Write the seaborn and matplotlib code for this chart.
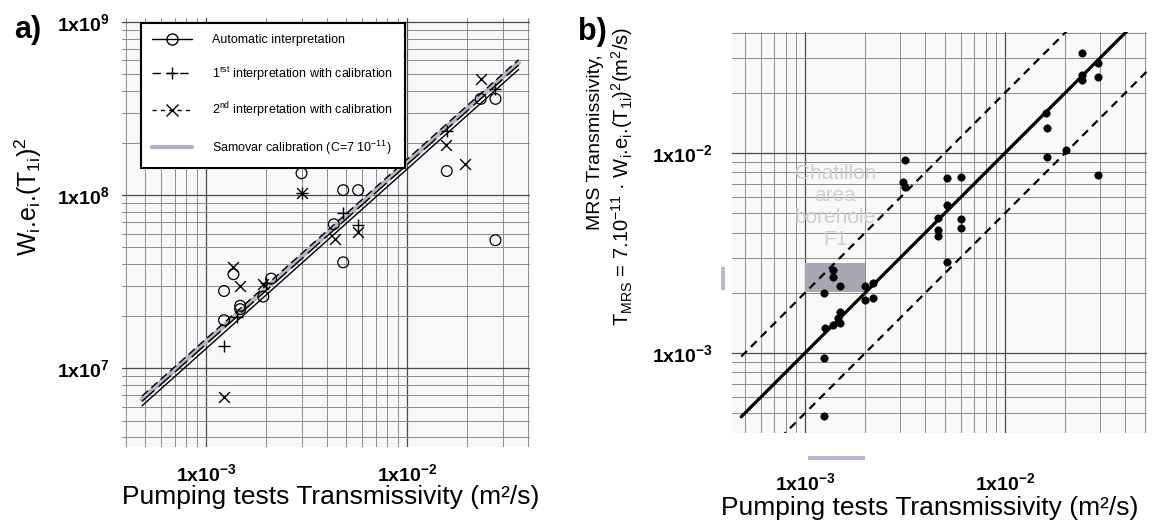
import numpy as np
import seaborn as sns
import matplotlib.pyplot as plt
from matplotlib.lines import Line2D
from matplotlib.patches import Rectangle
from matplotlib.ticker import FixedLocator, LogLocator, NullFormatter

sns.set_theme(style="white")
plt.rcParams['font.family'] = ['Liberation Sans', 'DejaVu Sans']
plt.rcParams['mathtext.fontset'] = 'custom'
plt.rcParams['mathtext.rm'] = 'Liberation Sans'
plt.rcParams['mathtext.it'] = 'Liberation Sans:italic'
plt.rcParams['mathtext.bf'] = 'Liberation Sans:bold'
plt.rcParams['text.color'] = 'black'
plt.rcParams['xtick.color'] = 'black'
plt.rcParams['ytick.color'] = 'black'
plt.rcParams['xtick.labelcolor'] = 'black'
plt.rcParams['ytick.labelcolor'] = 'black'

# panel a) : W.e.(T1)^2 vs pumping test transmissivity
auto_x = [2.99e-3, 4.82e-3, 5.72e-3, 4.33e-3, 4.82e-3, 1.37e-3, 1.23e-3, 2.11e-3,
          1.93e-3, 1.48e-3, 1.48e-3, 1.23e-3, 1.58e-2, 2.33e-2, 2.76e-2, 2.76e-2]
auto_y = [1.34e8, 1.07e8, 1.07e8, 6.8e7, 4.1e7, 3.5e7, 2.8e7, 3.3e7,
          2.6e7, 2.3e7, 2.2e7, 1.9e7, 1.38e8, 3.6e8, 3.6e8, 5.5e7]
calib1_x = [1.23e-3, 1.42e-3, 2.0e-3, 2.99e-3, 4.82e-3, 5.72e-3, 1.58e-2, 2.76e-2]
calib1_y = [1.35e7, 1.97e7, 3.1e7, 1.03e8, 7.86e7, 6.72e7, 2.36e8, 4.1e8]
calib2_x = [1.23e-3, 1.37e-3, 1.48e-3, 1.93e-3, 2.99e-3, 4.38e-3, 5.72e-3, 1.56e-2, 1.94e-2, 2.33e-2]
calib2_y = [6.8e6, 3.85e7, 3.0e7, 3.08e7, 1.03e8, 5.62e7, 6.14e7, 1.95e8, 1.51e8, 4.66e8]

# fitted lines y = k * (x / 1e-3) ** p
fit_names = ['auto', 'calib1', 'calib2', 'samovar']
fit_k = [1.30e7, 1.38e7, 1.48e7, 1.42e7]
fit_p = [1.036, 1.036, 1.036, 1.036]
fit_range_a = [4.8e-4, 3.6e-2]

# panel b) : MRS transmissivity vs pumping test transmissivity
mrs_x = [2.42e-2, 2.93e-2, 2.42e-2, 2.42e-2, 2.93e-2, 1.60e-2, 1.62e-2, 1.62e-2, 2.01e-2, 2.93e-2,
         3.16e-3, 3.09e-3, 3.16e-3, 5.11e-3, 6.03e-3, 5.11e-3, 4.64e-3, 6.03e-3, 6.03e-3, 4.62e-3,
         4.62e-3, 5.11e-3, 1.385e-3, 1.385e-3, 1.50e-3, 1.245e-3, 2.20e-3, 2.0e-3, 2.0e-3, 2.20e-3,
         1.50e-3, 1.47e-3, 1.50e-3, 1.385e-3, 1.26e-3, 1.245e-3, 1.245e-3]
mrs_y = [3.15e-2, 2.81e-2, 2.45e-2, 2.32e-2, 2.41e-2, 1.59e-2, 1.34e-2, 9.58e-3, 1.04e-2, 7.76e-3,
         9.23e-3, 7.16e-3, 6.76e-3, 7.47e-3, 7.56e-3, 5.50e-3, 4.72e-3, 4.66e-3, 4.20e-3, 4.12e-3,
         3.85e-3, 2.86e-3, 2.60e-3, 2.40e-3, 2.16e-3, 1.99e-3, 2.25e-3, 2.16e-3, 1.84e-3, 1.88e-3,
         1.61e-3, 1.49e-3, 1.41e-3, 1.38e-3, 1.34e-3, 0.947e-3, 0.484e-3]
ratio_lines = [1.0, 2.0, 0.5]
fit_range_b = [4.8e-4, 5.2e-2]

W, H = 1153, 522
fig = plt.figure(figsize=(W / 100, H / 100), dpi=100)
ax_a = fig.add_axes([122 / W, 1 - 447 / H, (530 - 122) / W, (447 - 18) / H])
ax_b = fig.add_axes([732 / W, 1 - 433 / H, (1147 - 732) / W, (433 - 32) / H])

for ax in (ax_a, ax_b):
    ax.set_xscale('log')
    ax.set_yscale('log')
    ax.set_facecolor('#f8f8f8')
    for s in ax.spines.values():
        s.set_visible(False)
    ax.grid(True, which='major', color='#4a4a4a', lw=0.9)
    ax.grid(True, which='minor', color='#8c8c8c', lw=0.7)
    ax.xaxis.set_minor_locator(LogLocator(base=10, subs=np.arange(2, 10)))
    ax.yaxis.set_minor_locator(LogLocator(base=10, subs=np.arange(2, 10)))
    ax.xaxis.set_minor_formatter(NullFormatter())
    ax.yaxis.set_minor_formatter(NullFormatter())
    ax.tick_params(which='both', length=0, labelsize=14, colors='black')

# ---- panel a
xs = np.array(fit_range_a)
styles = {'auto': dict(color='black', lw=1.0, linestyle='-'),
          'calib1': dict(color='black', lw=1.0, linestyle=(0, (12, 4))),
          'calib2': dict(color='black', lw=1.0, linestyle=(0, (6, 3))),
          'samovar': dict(color='#b4b4c6', lw=3.5, linestyle='-')}
order = ['samovar', 'auto', 'calib1', 'calib2']
for name in order:
    i = fit_names.index(name)
    ys = fit_k[i] * (xs / 1e-3) ** fit_p[i]
    sns.lineplot(x=xs, y=ys, ax=ax_a, estimator=None, sort=False, zorder=2, **styles[name])

sns.scatterplot(x=auto_x, y=auto_y, ax=ax_a, marker='o', s=60, facecolor='none',
                edgecolor='black', linewidth=0.9, zorder=3)
sns.scatterplot(x=calib1_x, y=calib1_y, ax=ax_a, marker='+', s=80, color='black',
                linewidth=1.0, zorder=3)
sns.scatterplot(x=calib2_x, y=calib2_y, ax=ax_a, marker='x', s=60, color='black',
                linewidth=1.0, zorder=3)

ax_a.set_xlim(3.82e-4, 4.1e-2)
ax_a.set_ylim(3.52e6, 1.055e9)
ax_a.xaxis.set_major_locator(FixedLocator([1e-3, 1e-2]))
ax_a.set_xticklabels([r'$\mathbf{1x10^{-3}}$', r'$\mathbf{1x10^{-2}}$'])
ax_a.yaxis.set_major_locator(FixedLocator([1e7, 1e8, 1e9]))
ax_a.set_yticklabels([r'$\mathbf{1x10^{7}}$', r'$\mathbf{1x10^{8}}$', r'$\mathbf{1x10^{9}}$'])
ax_a.tick_params(axis='x', pad=12)
ax_a.tick_params(axis='y', pad=9)
ax_a.set_xlabel('')
ax_a.set_ylabel('')

handles = [
    Line2D([], [], color='black', lw=1, marker='o', mfc='none', mec='black', ms=8),
    Line2D([], [], color='black', lw=1, linestyle=(0, (6, 4)), marker='+', mec='black', ms=9),
    Line2D([], [], color='black', lw=1, linestyle=(0, (3, 3)), marker='x', mec='black', ms=8),
    Line2D([], [], color='#b4b4c6', lw=3),
]
labels = ['Automatic interpretation',
          r'1$^{\mathrm{rst}}$ interpretation with calibration',
          r'2$^{\mathrm{nd}}$ interpretation with calibration',
          r'Samovar calibration (C=7 10$^{-11}$)']
leg = ax_a.legend(handles, labels, loc='upper left', bbox_to_anchor=(0.047, 0.988),
                  fontsize=9, frameon=True, fancybox=False, framealpha=1,
                  edgecolor='black', handlelength=3.2, handletextpad=1.6,
                  labelspacing=1.45, borderpad=0.9, borderaxespad=0)
leg.get_frame().set_linewidth(1.5)
leg.set_zorder(5)

# ---- panel b
xb = np.array(fit_range_b)
for r in ratio_lines:
    if r == 1.0:
        sns.lineplot(x=xb, y=r * xb, ax=ax_b, color='black', lw=2.3, estimator=None, zorder=3)
    else:
        sns.lineplot(x=xb, y=r * xb, ax=ax_b, color='black', lw=1.6,
                     linestyle=(0, (3.6, 2.6)), estimator=None, zorder=3)

ax_b.add_patch(Rectangle((1.0e-3, 2.02e-3), 1.0e-3, 0.8e-3, color='#a8a8b2', zorder=2, lw=0))
ax_b.text(1.42e-3, 5.4e-3, 'Chatillon\narea\nborehole\nF1', ha='center', va='center',
          fontsize=15, color='#cfcfcf', linespacing=1.2, zorder=2)

sns.scatterplot(x=mrs_x, y=mrs_y, ax=ax_b, marker='o', s=28, color='black',
                edgecolor='black', linewidth=0.5, zorder=4)

ax_b.set_xlim(4.315e-4, 5.13e-2)
ax_b.set_ylim(3.98e-4, 4.03e-2)
ax_b.xaxis.set_major_locator(FixedLocator([1e-3, 1e-2]))
ax_b.set_xticklabels([r'$\mathbf{1x10^{-3}}$', r'$\mathbf{1x10^{-2}}$'])
ax_b.yaxis.set_major_locator(FixedLocator([1e-3, 1e-2]))
ax_b.set_yticklabels([r'$\mathbf{1x10^{-3}}$', r'$\mathbf{1x10^{-2}}$'])
ax_b.tick_params(axis='x', pad=28)
ax_b.tick_params(axis='y', pad=14)
ax_b.set_xlabel('')
ax_b.set_ylabel('')

# ---- labels
fig.text(28 / W, 1 - 30 / H, 'a)', fontsize=22, fontweight='bold', ha='center', va='center')
fig.text(592 / W, 1 - 32 / H, 'b)', fontsize=22, fontweight='bold', ha='center', va='center')
fig.text(331 / W, 1 - 497 / H, 'Pumping tests Transmissivity (m²/s)', fontsize=19,
         ha='center', va='center')
fig.text(930 / W, 1 - 508 / H, 'Pumping tests Transmissivity (m²/s)', fontsize=19,
         ha='center', va='center')
fig.text(28 / W, 1 - 197 / H, r'W$_{\mathrm{i}}$.e$_{\mathrm{i}}$.(T$_{\mathrm{1i}}$)$^{2}$',
         fontsize=18, rotation=90, ha='center', va='center')
fig.text(595 / W, 1 - 142 / H, 'MRS Transmissivity,', fontsize=14,
         rotation=90, ha='center', va='center')
fig.text(622 / W, 1 - 176 / H,
         r'T$_{\mathrm{MRS}}$ = 7.10$^{-11}$ · W$_{\mathrm{i}}$.e$_{\mathrm{i}}$.'
         r'(T$_{\mathrm{1i}}$)$^{2}$(m$^{2}$/s)',
         fontsize=14.5, rotation=90, ha='center', va='center')

# faint highlight marks from the original figure
for (x0, y0, w, h) in [(721, 267, 4, 23), (808, 456, 57, 4)]:
    fig.add_artist(Rectangle((x0 / W, 1 - (y0 + h) / H), w / W, h / H,
                             transform=fig.transFigure, color='#b8b8d0', lw=0))

fig.savefig('out.png', dpi=100)
